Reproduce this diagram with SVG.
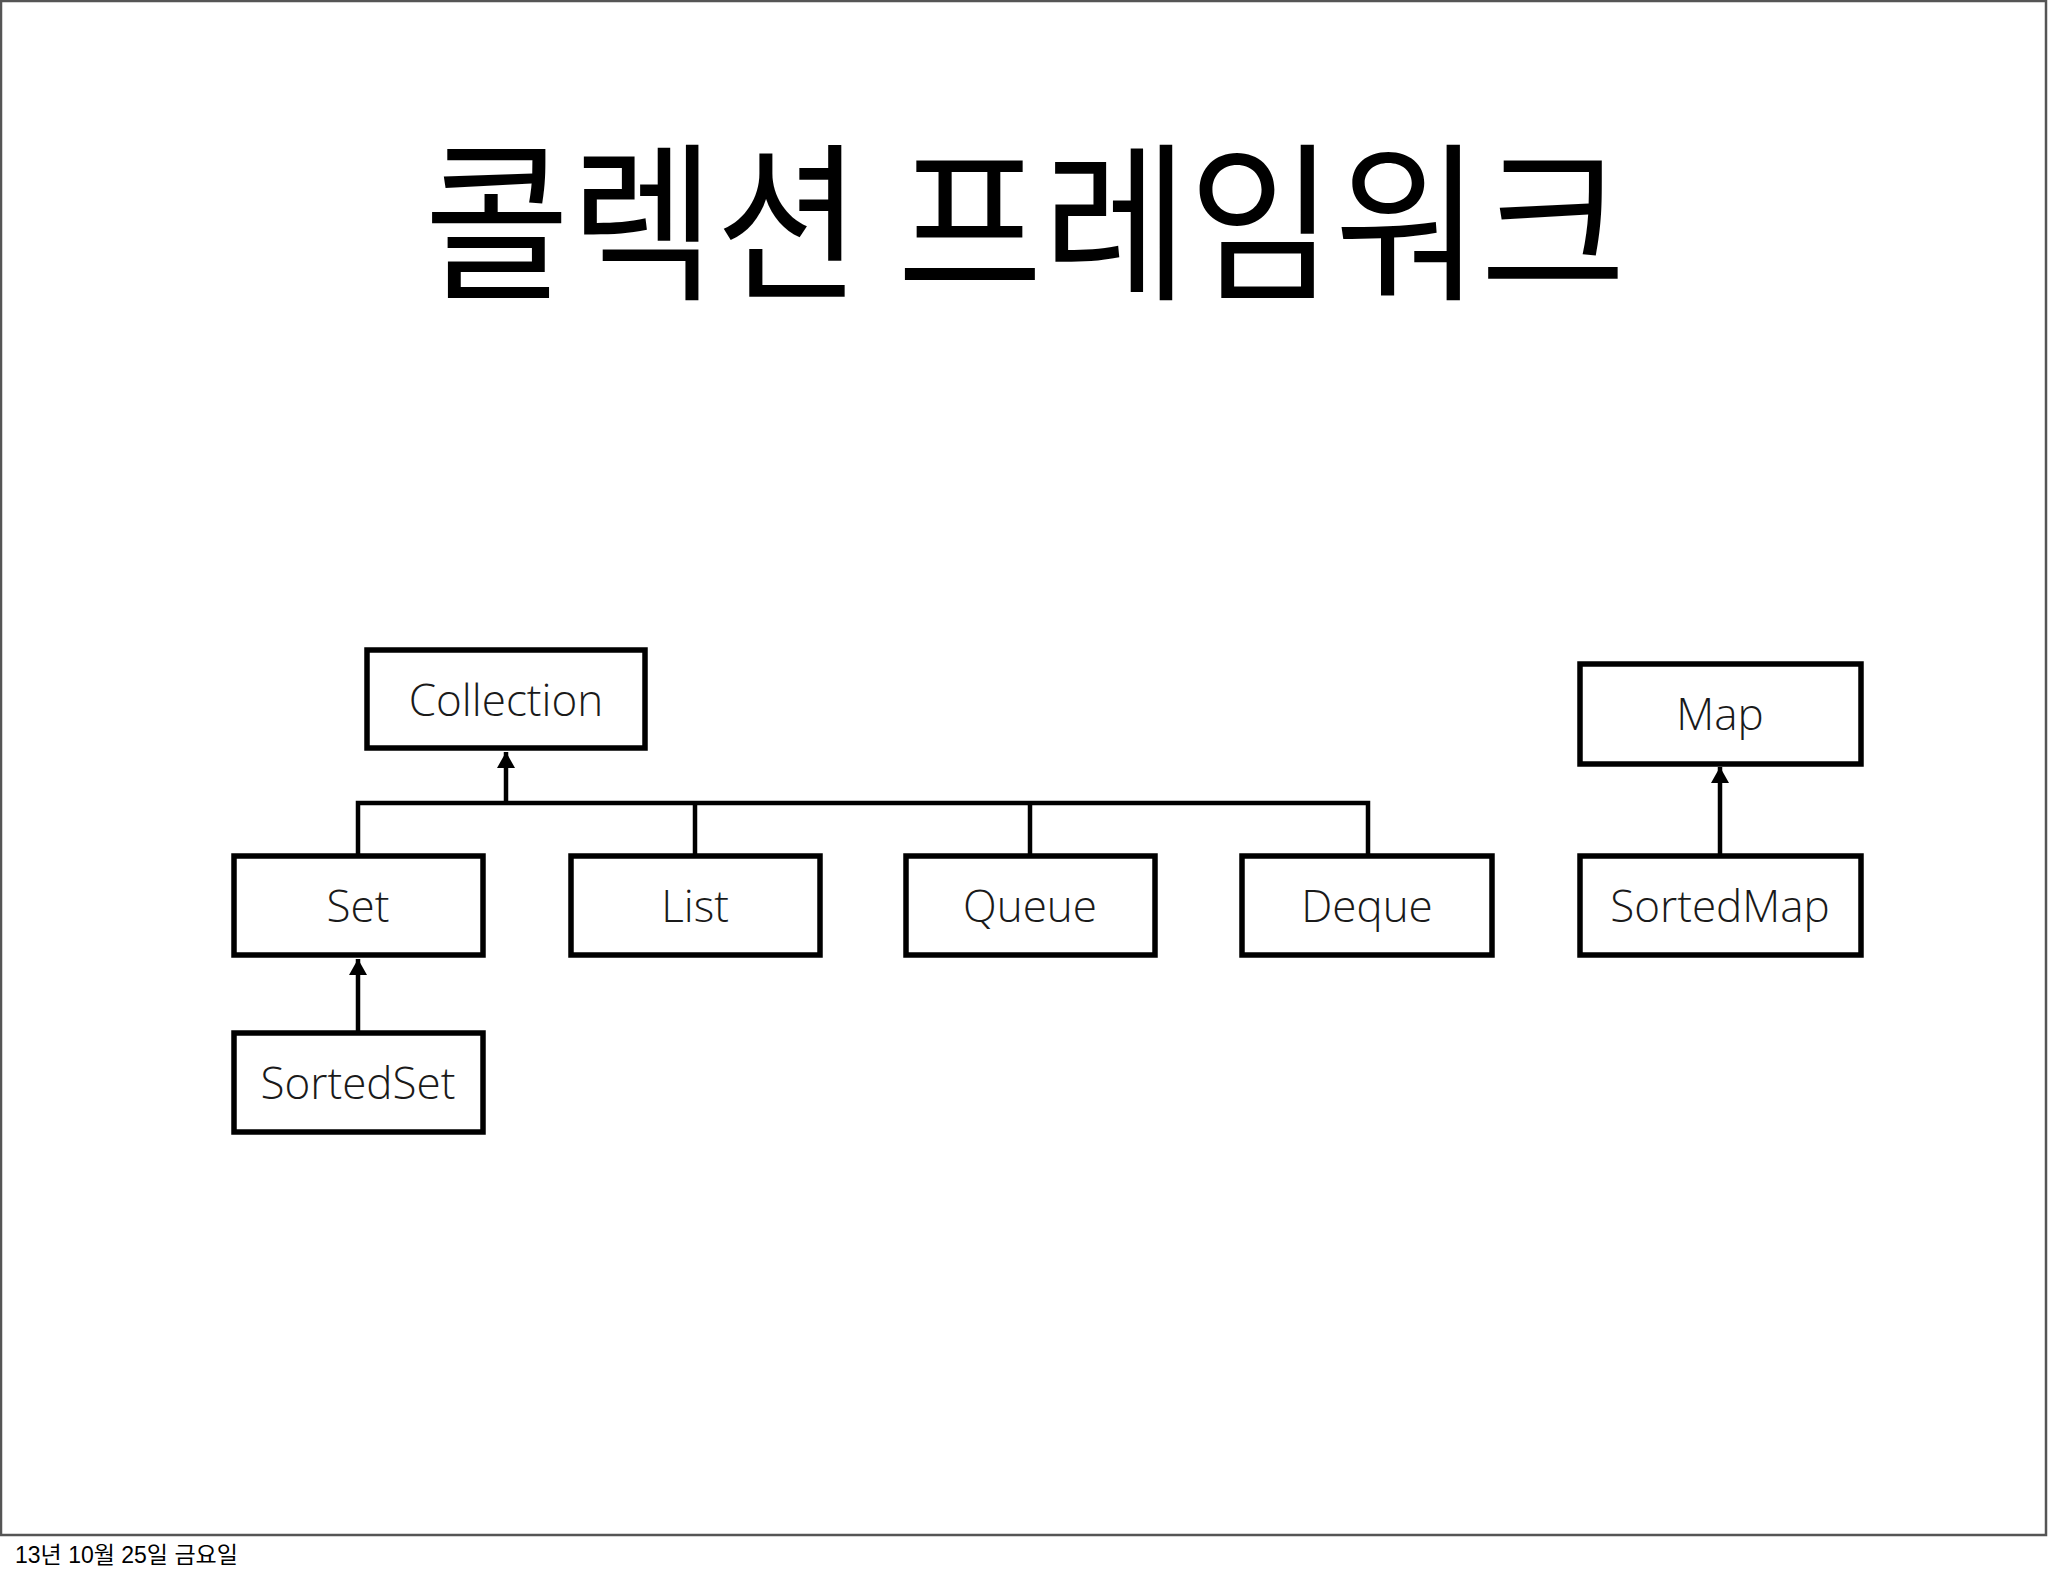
<svg xmlns="http://www.w3.org/2000/svg" width="2048" height="1576" viewBox="0 0 2048 1576">
<style>
.box{fill:#fff;stroke:#000;stroke-width:5.5}
.lbl{font-family:"Open Sans","Noto Sans",sans-serif;font-size:44px;font-weight:300;fill:#1a1a1a;text-anchor:middle}
.conn{fill:none;stroke:#000;stroke-width:4.5}
</style>
<defs>
<marker id="arr" markerUnits="userSpaceOnUse" markerWidth="20" markerHeight="20" viewBox="0 0 20 20" refX="18" refY="10" orient="auto">
<path d="M2,1 L18,10 L2,19 Z" fill="#000"/>
</marker>
</defs>
<rect x="0" y="0" width="2048" height="1576" fill="#fff"/>
<rect x="1" y="1" width="2045" height="1534" fill="none" stroke="#555" stroke-width="2.5"/>
<text x="424" y="286" font-family="'Noto Sans CJK KR',sans-serif" font-size="171" textLength="1202" lengthAdjust="spacingAndGlyphs">콜렉션 프레임워크</text>
<g id="connectors">
<path class="conn" d="M358,856 V803 H1368 V856"/>
<path class="conn" d="M695,803 V856"/>
<path class="conn" d="M1030,803 V856"/>
<path class="conn" d="M506,803 V752" marker-end="url(#arr)"/>
<path class="conn" d="M358,1033 V959" marker-end="url(#arr)"/>
<path class="conn" d="M1720,856 V767" marker-end="url(#arr)"/>
</g>
<g id="collection"><rect class="box" x="367" y="650" width="278" height="98"/><text class="lbl" x="506" y="716">Collection</text></g>
<g id="set"><rect class="box" x="234" y="856" width="249" height="99"/><text class="lbl" x="358" y="922">Set</text></g>
<g id="list"><rect class="box" x="571" y="856" width="249" height="99"/><text class="lbl" x="695" y="922">List</text></g>
<g id="queue"><rect class="box" x="906" y="856" width="249" height="99"/><text class="lbl" x="1030" y="922">Queue</text></g>
<g id="deque"><rect class="box" x="1242" y="856" width="250" height="99"/><text class="lbl" x="1367" y="922">Deque</text></g>
<g id="sortedset"><rect class="box" x="234" y="1033" width="249" height="99"/><text class="lbl" x="358" y="1099">SortedSet</text></g>
<g id="map"><rect class="box" x="1580" y="664" width="281" height="100"/><text class="lbl" x="1720" y="730">Map</text></g>
<g id="sortedmap"><rect class="box" x="1580" y="856" width="281" height="99"/><text class="lbl" x="1720" y="922">SortedMap</text></g>
<text x="15" y="1563" font-family="'Liberation Sans','Noto Sans CJK KR',sans-serif" font-size="23" fill="#000">13년 10월 25일 금요일</text>
</svg>
